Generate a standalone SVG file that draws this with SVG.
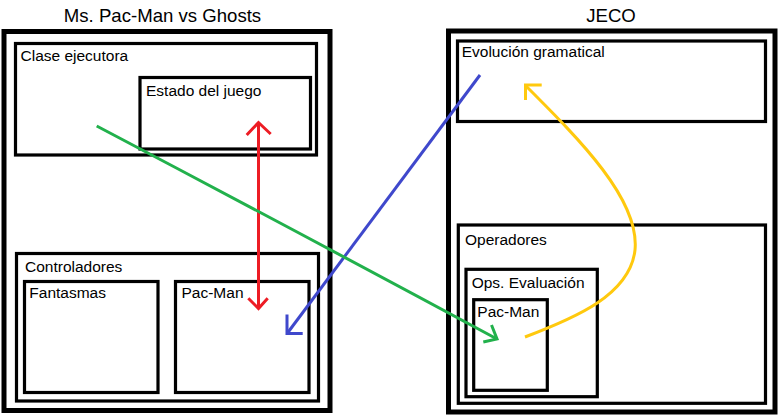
<svg xmlns="http://www.w3.org/2000/svg" width="779" height="420" viewBox="0 0 779 420">
<defs>
<style>
.outer{fill:none;stroke:#000;stroke-width:5}
.box{fill:none;stroke:#000;stroke-width:3.2}
.t{font-family:"Liberation Sans",Arial,sans-serif;font-size:15.5px;fill:#000}
.title{font-family:"Liberation Sans",Arial,sans-serif;font-size:18.6px;fill:#000;text-anchor:middle}
.c{fill:none;stroke-width:3;stroke-linecap:butt;stroke-linejoin:miter}
</style>
</defs>
<rect width="779" height="420" fill="#fff"/>
<g id="mspacman">
<text class="title" x="162.5" y="22">Ms. Pac-Man vs Ghosts</text>
<rect class="outer" x="4" y="31.5" width="326" height="379"/>
</g>
<g id="clase-ejecutora">
<rect class="box" x="15.5" y="43.5" width="301" height="111.5"/>
<text class="t" x="20.5" y="60.5">Clase ejecutora</text>
</g>
<g id="estado-juego">
<rect class="box" x="140" y="77.5" width="170.5" height="71.5"/>
<text class="t" x="146" y="95.7">Estado del juego</text>
</g>
<g id="controladores">
<rect class="box" x="16.5" y="253.5" width="302" height="147.5"/>
<text class="t" x="25" y="271.7">Controladores</text>
</g>
<g id="fantasmas">
<rect class="box" x="24.5" y="281.5" width="133.5" height="111"/>
<text class="t" x="29.3" y="298.3">Fantasmas</text>
</g>
<g id="pacman-ctrl">
<rect class="box" x="175.5" y="281.5" width="133.5" height="111"/>
<text class="t" x="181.5" y="298.3">Pac-Man</text>
</g>
<g id="jeco">
<text class="title" x="611" y="22">JECO</text>
<rect class="outer" x="448.5" y="31" width="326.5" height="381"/>
</g>
<g id="evolucion">
<rect class="box" x="457.5" y="41" width="308" height="80.5"/>
<text class="t" x="461.7" y="56.7">Evolución gramatical</text>
</g>
<g id="operadores">
<rect class="box" x="458.3" y="225" width="307.2" height="178.3"/>
<text class="t" x="465" y="245">Operadores</text>
</g>
<g id="ops-evaluacion">
<rect class="box" x="466" y="269.3" width="131.3" height="127.4"/>
<text class="t" x="471.7" y="288.3">Ops. Evaluación</text>
</g>
<g id="pacman-eval">
<rect class="box" x="473.7" y="299.7" width="73.6" height="90.6"/>
<text class="t" x="477.3" y="316.7">Pac-Man</text>
</g>
<g id="connectors">
<g stroke="#ed1c24" class="c">
<path class="c" stroke="#ed1c24" d="M258.5,123 V307"/>
<path class="c" stroke="#ed1c24" d="M246.7,135 L258.5,122.5 L270.7,134"/>
<path class="c" stroke="#ed1c24" d="M248.3,298.3 L258.5,308.5 L267.7,298.3"/>
</g>
<path class="c" stroke="#3f48cc" d="M480,75 L287.5,333"/>
<path class="c" stroke="#3f48cc" d="M287,314.5 V333.5 H302.7"/>
<path class="c" stroke="#22b14c" d="M96.7,126 Q300,233 497,339"/>
<path class="c" stroke="#22b14c" d="M491.5,325 L497,339 L483.3,342"/>
<path class="c" stroke="#ffc90e" d="M525,337 C575,318 630,295 635,250 C640,200 580,140 526,86"/>
<path class="c" stroke="#ffc90e" d="M541.7,85 H525.5 V100"/>
</g>
</svg>
